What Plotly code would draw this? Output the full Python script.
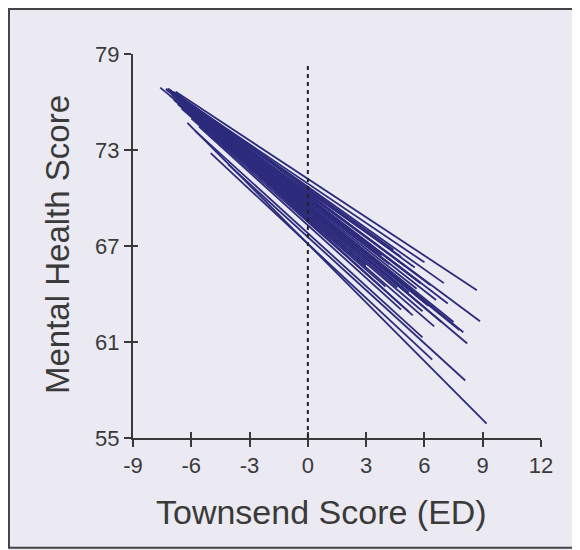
import plotly.graph_objects as go

# Regression lines: value at Townsend = 0 (intercept), slope, and observed Townsend range
intercepts = [71.2, 70.29, 69.55, 69.32, 69.42, 70.03, 68.6, 67.13, 67.56, 67.8, 67.14,
              70.9, 70.7, 70.5, 70.4, 70.3, 70.2, 70.1, 70.0, 69.9, 69.8, 69.7, 69.6,
              69.5, 69.4, 69.3, 69.2, 69.1, 69.0, 68.9, 68.8, 68.7, 68.5, 70.6, 69.95, 68.3]
slopes = [-0.80, -0.902, -0.993, -1.026, -0.984, -0.919, -1.10, -1.221, -1.107, -1.103, -1.132,
          -0.82, -0.86, -0.88, -0.85, -0.91, -0.89, -0.93, -0.92, -0.95, -0.94, -0.96, -0.98,
          -0.97, -0.99, -1.00, -1.01, -1.02, -1.03, -1.04, -1.05, -1.06, -1.08, -0.87, -0.93, -1.10]
x_min = [-6.8, -7.0, -7.3, -6.9, -7.6, -6.5, -6.7, -6.2, -4.1, -5.8, -5.0,
         -6.6, -6.9, -7.1, -6.4, -7.2, -6.0, -7.0, -6.5, -7.3, -6.3, -6.8, -7.0,
         -6.1, -6.6, -7.1, -6.4, -6.9, -6.2, -6.7, -5.9, -6.5, -6.0, -6.8, -5.5, -5.6]
x_max = [8.7, 8.86, 8.0, 8.2, 7.8, 5.8, 5.2, 9.2, 8.1, 5.9, 6.4,
         6.0, 7.0, 5.5, 4.8, 6.3, 5.0, 7.2, 5.8, 6.6, 4.2, 5.6, 7.5,
         3.5, 6.2, 5.2, 6.9, 4.6, 5.9, 3.0, 6.5, 4.0, 5.4, 4.4, 3.8, 4.8]

x_ticks = [-9, -6, -3, 0, 3, 6, 9, 12]
x_tick_labels = ["-9", "-6", "-3", "0", "3", "6", "9", "12"]
y_ticks = [55, 61, 67, 73, 79]
y_tick_labels = ["55", "61", "67", "73", "79"]

xs, ys = [], []
for a, b, lo, hi in zip(intercepts, slopes, x_min, x_max):
    xs += [lo, hi, None]
    ys += [a + b * lo, a + b * hi, None]

BG = "#ebeaf2"
INK = "#3a3a3a"
FONT = "Liberation Sans, Arial, sans-serif"

fig = go.Figure()
fig.add_trace(go.Scatter(x=xs, y=ys, mode="lines",
                         line=dict(color="#2d2b7c", width=1.8),
                         hoverinfo="skip", showlegend=False))
# invisible trace to activate overlay axes (for crossing ticks)
fig.add_trace(go.Scatter(x=[-9], y=[55], xaxis="x2", yaxis="y2", mode="markers",
                         marker=dict(opacity=0), showlegend=False, hoverinfo="skip"))

fig.add_shape(type="line", x0=0, x1=0, y0=55, y1=78.5, xref="x", yref="y",
              line=dict(color="#222222", width=2, dash="4px,4px"))
# outer frame
fig.add_shape(type="rect", xref="paper", yref="paper",
              x0=-0.304, x1=1.2, y0=-0.286, y1=1.117,
              line=dict(color="#444444", width=2), fillcolor="rgba(0,0,0,0)")

axis_common = dict(showgrid=False, zeroline=False, showline=True, linecolor=INK,
                   linewidth=2, tickcolor=INK, tickwidth=2, mirror=False)
fig.update_layout(
    width=572, height=542,
    margin=dict(l=125, r=39, t=46, b=112),
    paper_bgcolor=BG, plot_bgcolor=BG,
    font=dict(family=FONT, color=INK),
    xaxis=dict(range=[-9, 12], tickvals=x_ticks, ticktext=x_tick_labels,
               ticks="outside", ticklen=7,
               tickfont=dict(size=22, color=INK), **axis_common),
    yaxis=dict(range=[55, 79], tickvals=y_ticks, ticktext=y_tick_labels,
               ticks="outside", ticklen=7,
               tickfont=dict(size=22, color=INK), **axis_common),
    xaxis2=dict(range=[-9, 12], tickvals=x_ticks, ticks="inside", ticklen=6,
                showticklabels=False, overlaying="x", anchor="y", **axis_common),
    yaxis2=dict(range=[55, 79], tickvals=y_ticks, ticks="inside", ticklen=5,
                showticklabels=False, overlaying="y", anchor="x", **axis_common),
    annotations=[
        dict(text="Townsend Score (ED)", xref="paper", yref="paper",
             x=(321 - 133) / 408, y=(438 - 512) / 384, showarrow=False,
             font=dict(size=34, color=INK), xanchor="center", yanchor="middle"),
        dict(text="Mental Health Score", xref="paper", yref="paper",
             x=(57 - 133) / 408, y=(438 - 245) / 384, showarrow=False, textangle=-90,
             font=dict(size=33, color=INK), xanchor="center", yanchor="middle"),
    ],
)

fig.write_html("out.html")
